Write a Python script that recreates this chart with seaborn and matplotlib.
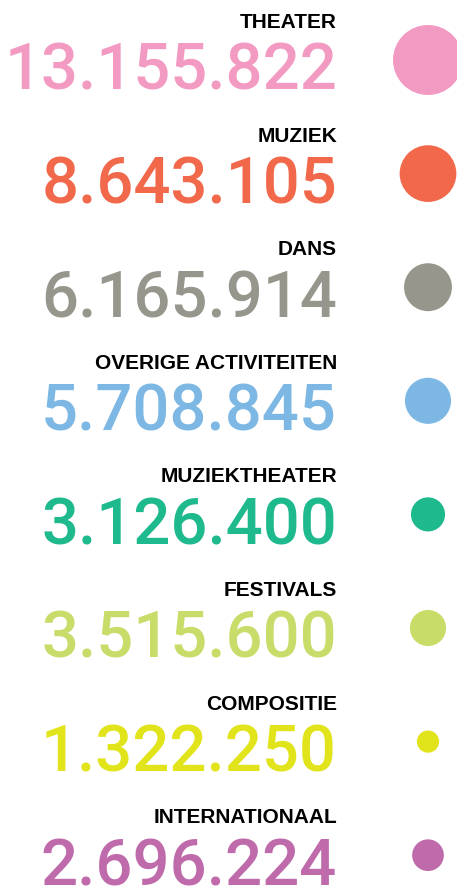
import pandas as pd
import numpy as np
import matplotlib
matplotlib.use('Agg')
import matplotlib.pyplot as plt
import seaborn as sns

sns.set_style('white')
plt.rcParams['font.family'] = ['Liberation Sans', 'DejaVu Sans']

# Data
categories = ['THEATER', 'MUZIEK', 'DANS', 'OVERIGE ACTIVITEITEN',
              'MUZIEKTHEATER', 'FESTIVALS', 'COMPOSITIE', 'INTERNATIONAAL']
values = [13155822, 8643105, 6165914, 5708845, 3126400, 3515600, 1322250, 2696224]
colors = ['#F39AC3', '#F1684B', '#96968C', '#7DB7E3',
          '#1EB98C', '#C8DC6A', '#E1E41A', '#BE6AAB']

df = pd.DataFrame({'category': categories, 'value': values})
df['row'] = np.arange(len(df))
df['label'] = df['value'].map(lambda v: f'{v:,}'.replace(',', '.'))

# Layout (pixel based)
W, H = 457, 889
row_gap = 113.6
first_center = 60
text_right = 337
circle_x = 428
max_diam_px = 70  # diameter of the largest circle

fig = plt.figure(figsize=(W / 100, H / 100), dpi=100)
ax = fig.add_axes([0, 0, 1, 1])
ax.set_xlim(0, W)
ax.set_ylim((H - first_center) / row_gap, -first_center / row_gap)
ax.axis('off')

# circles, area proportional to value
max_s = (max_diam_px * 72 / 100) ** 2
df['cx'] = circle_x
sns.scatterplot(data=df, x='cx', y='row', hue='category', size='value',
                palette=dict(zip(categories, colors)),
                sizes=(0, max_s), size_norm=(0, max(values)),
                linewidth=0, legend=False, ax=ax, clip_on=True)

for _, r in df.iterrows():
    ax.annotate(r['label'], (text_right, r['row']), xytext=(0, -30),
                textcoords='offset pixels', ha='right', va='baseline',
                fontsize=47, color=colors[r['row']],
                family=['Roboto', 'Liberation Sans'], fontweight='medium')
    ax.annotate(r['category'], (text_right, r['row']), xytext=(0, 32),
                textcoords='offset pixels', ha='right', va='baseline',
                fontsize=15, fontweight='bold', color='black')

plt.savefig('out.png', dpi=100)
plt.close()
